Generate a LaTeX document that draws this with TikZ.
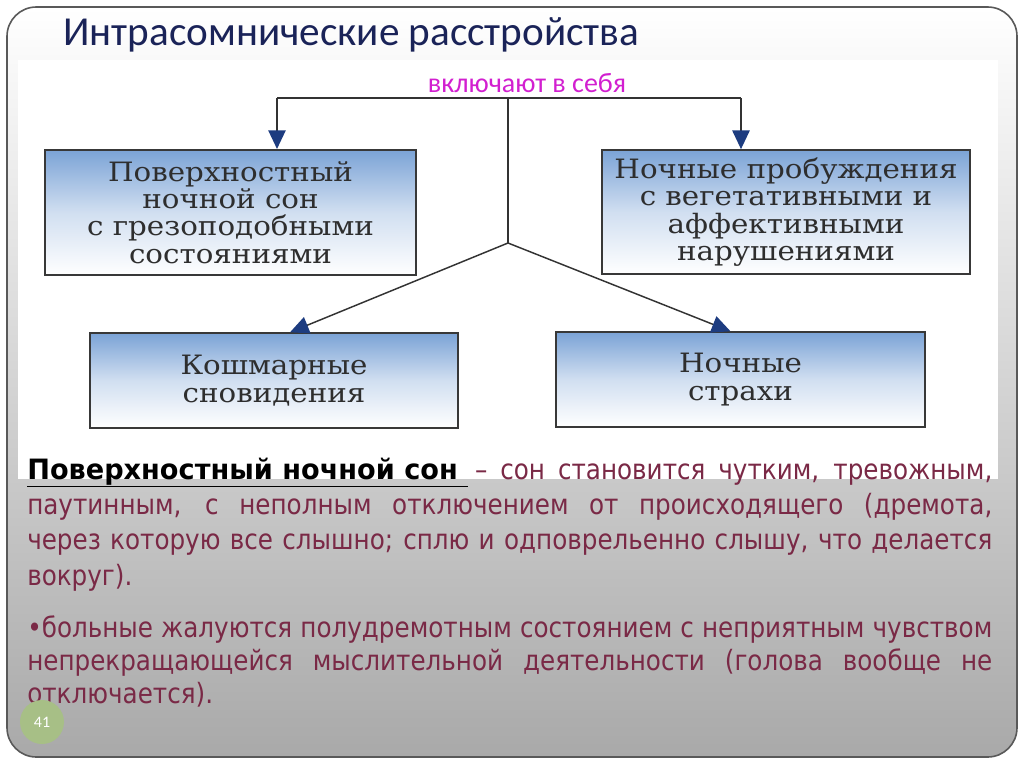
\documentclass[tikz,border=0pt]{standalone}
\usepackage{fontspec}
\setmainfont{Carlito}
\newfontfamily\bodyfont[FakeStretch=0.88, BoldFeatures={FakeStretch=0.97}]{DejaVu Sans}
\newfontfamily\boxfont[FakeStretch=1.1]{DejaVu Serif}
\usetikzlibrary{arrows.meta, positioning, calc}
\tolerance=10000
\emergencystretch=20pt

\definecolor{titleblue}{HTML}{1A2358}
\definecolor{incmag}{HTML}{D21FD0}
\definecolor{boxblue}{HTML}{7BA3D6}
\definecolor{tipblue}{HTML}{1D3C80}
\definecolor{textred}{HTML}{7A2946}
\definecolor{pagegreen}{HTML}{A7BF86}
\definecolor{slidegrey}{HTML}{A9A9A9}

\begin{document}
\begin{tikzpicture}[x=0.75pt, y=-0.75pt,
    box/.style={draw=black!78, line width=1.3pt, top color=boxblue, bottom color=white,
      middle color=boxblue!35, align=center, text=black!82,
      font=\boxfont\fontsize{20}{20.5}\selectfont},
    link/.style={draw=black!80, line width=1.1pt},
    tip/.style={link, -{Triangle[length=14pt, width=13pt, color=tipblue]}},
    para/.style={anchor=base west, inner sep=0pt, text width=723.75pt, align=justify,
      text=textred, font=\bodyfont\fontsize{21}{26.5}\selectfont}]
  \useasboundingbox (0,0) rectangle (1024,767);
  % slide
  \fill[top color=white, bottom color=slidegrey, rounded corners=22pt] (7,7) rectangle (1017,757);
  \fill[white] (18,60) rectangle (998,479);
  \draw[black!65, line width=1.2pt, rounded corners=22pt] (7,7) rectangle (1017,757);
  \node[anchor=base west, inner sep=0pt, text=titleblue, font=\fontsize{30.9}{34}\selectfont]
    (title) at (63,46) {Интрасомнические расстройства};
  % diagram
  \node[text=incmag, font=\fontsize{21}{22}\selectfont] (incl) at (527,83) {включают в себя};
  \node[box, minimum width=278pt, minimum height=94pt] (sleep) at (230.5,212.5)
    {Поверхностный\\ночной сон\\с грезоподобными\\состояниями};
  \node[box, minimum width=276pt, minimum height=93pt] (wake) at (786,212)
    {Ночные пробуждения\\с вегетативными и\\аффективными\\нарушениями};
  \node[box, minimum width=276pt, minimum height=71pt] (nightmare) at (274,380.5)
    {Кошмарные\\сновидения};
  \node[box, minimum width=277pt, minimum height=71pt] (terror) at (740.5,379.5)
    {Ночные\\страхи};
  \coordinate (hub) at (508,98);
  \coordinate (fork) at (508,243);
  \coordinate (left end) at (277,98);
  \coordinate (right end) at (741,98);
  \draw[link] (left end) -- (right end);
  \draw[link] (hub) -- (fork);
  \draw[tip] (left end) -- (left end |- sleep.north);
  \draw[tip] (right end) -- (right end |- wake.north);
  \draw[tip] (fork) -- ([xshift=12pt]nightmare.north);
  \draw[tip] (fork) -- ([xshift=-7.5pt]terror.north);
  % text
  \node[para] (definition) at (27,479)
    {\textcolor{black}{\textbf{\underline{Поверхностный ночной сон\hspace{8pt}}}}\hspace{5pt}– сон становится чутким, тревожным,\linebreak
     паутинным, с неполным отключением от происходящего (дремота,\linebreak
     через которую все слышно; сплю и одповрельенно слышу, что делается\linebreak
     вокруг).};
  \node[para, font=\bodyfont\fontsize{21}{25}\selectfont] (complaint) at (27,637)
    {•больные жалуются полудремотным состоянием с неприятным чувством\linebreak
     непрекращающейся мыслительной деятельности (голова вообще не\linebreak
     отключается).};
  \node[circle, fill=pagegreen, minimum size=33pt, inner sep=0pt, text=white,
    font=\fontsize{12}{13}\selectfont] (page) at (42,722) {41};
\end{tikzpicture}
\end{document}
